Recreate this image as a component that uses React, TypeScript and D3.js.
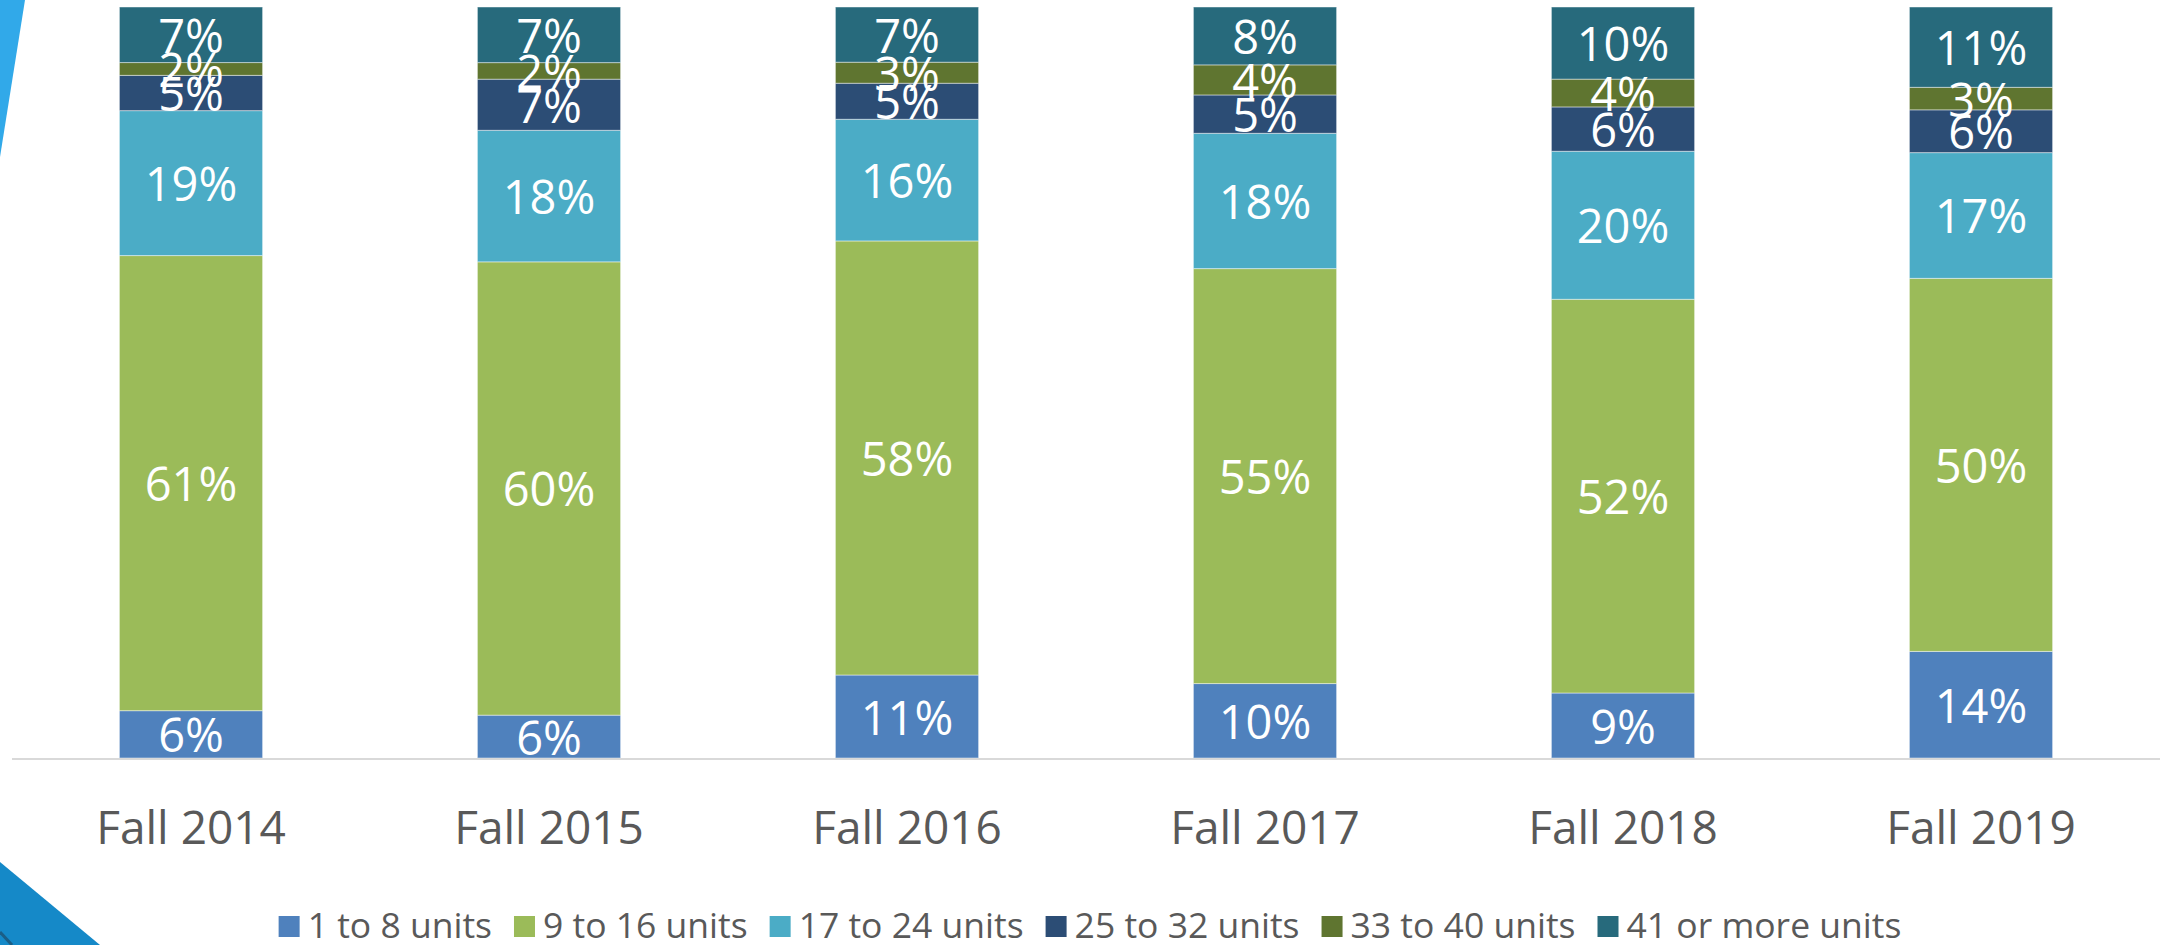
import React, { useEffect, useRef } from "react";
import * as d3 from "d3";

const categories = ["Fall 2014", "Fall 2015", "Fall 2016", "Fall 2017", "Fall 2018", "Fall 2019"];
const seriesNames = ["1 to 8 units", "9 to 16 units", "17 to 24 units", "25 to 32 units", "33 to 40 units", "41 or more units"];
const units1to8 = [6.3, 5.7, 11.05, 9.9, 8.65, 14.2];
const units9to16 = [60.6, 60.3, 57.8, 55.2, 52.4, 49.7];
const units17to24 = [19.3, 17.5, 16.2, 18.0, 19.7, 16.75];
const units25to32 = [4.7, 6.8, 4.8, 5.1, 5.9, 5.7];
const units33to40 = [1.7, 2.2, 2.8, 4.0, 3.7, 3.0];
const units41plus = [7.4, 7.4, 7.35, 7.7, 9.6, 10.7];
const seriesColors = ["#4F81BD", "#9BBB59", "#4BACC6", "#2C4D75", "#5F7530", "#276A7C"];

const W = 2169;
const H = 945;
const FONT = "'Open Sans', 'Noto Sans', sans-serif";

export default function App() {
  const ref = useRef<SVGSVGElement | null>(null);

  useEffect(() => {
    const svg = d3.select(ref.current);
    svg.selectAll("*").remove();

    const seriesValues = [units1to8, units9to16, units17to24, units25to32, units33to40, units41plus];
    const rows = categories.map((c, i) => {
      const r: any = { cat: c };
      seriesNames.forEach((s, k) => (r[s] = seriesValues[k][i]));
      return r;
    });

    const plotLeft = 12, plotRight = 2160, baseY = 758, topY = 7;
    const x = d3.scaleBand<string>().domain(categories).range([plotLeft, plotRight]).paddingInner(0.6).paddingOuter(0.3);
    const y = d3.scaleLinear().domain([0, 1]).range([baseY, topY]);
    const stack = d3.stack<any>().keys(seriesNames).offset(d3.stackOffsetExpand);
    const stacked = stack(rows);

    // decorations
    svg.append("polygon").attr("points", `0,0 25,0 0,157`).attr("fill", "#31A9E9");
    svg.append("polygon").attr("points", `0,862 100,945 0,945`).attr("fill", "#1589C8");
    svg.append("line").attr("x1", 0).attr("y1", 932).attr("x2", 12).attr("y2", 945).attr("stroke", "#1B5E86").attr("stroke-width", 3);

    const g = svg.append("g");
    stacked.forEach((layer, k) => {
      g.selectAll(null)
        .data(layer)
        .enter()
        .append("rect")
        .attr("x", (d: any) => x(d.data.cat)!)
        .attr("width", x.bandwidth())
        .attr("y", (d: any) => y(d[1]))
        .attr("height", (d: any) => y(d[0]) - y(d[1]))
        .attr("fill", seriesColors[k])
        .attr("stroke", "rgba(255,255,255,0.45)")
        .attr("stroke-width", 1);
    });

    // axis line
    svg.append("line").attr("x1", plotLeft).attr("x2", plotRight).attr("y1", baseY + 1).attr("y2", baseY + 1)
      .attr("stroke", "#D9D9D9").attr("stroke-width", 2);

    // labels
    stacked.forEach((layer, k) => {
      g.selectAll(null)
        .data(layer)
        .enter()
        .append("text")
        .attr("x", (d: any) => x(d.data.cat)! + x.bandwidth() / 2)
        .attr("y", (d: any) => (y(d[0]) + y(d[1])) / 2)
        .attr("text-anchor", "middle")
        .attr("dominant-baseline", "central")
        .attr("fill", "#FFFFFF")
        .attr("font-family", FONT)
        .attr("font-size", 47)
        .text((d: any) => `${Math.round(d.data[seriesNames[k]])}%`);
    });

    // category labels
    svg.selectAll(null)
      .data(categories)
      .enter()
      .append("text")
      .attr("x", (c) => x(c)! + x.bandwidth() / 2)
      .attr("y", 844)
      .attr("text-anchor", "middle")
      .attr("fill", "#595959")
      .attr("font-family", FONT)
      .attr("font-size", 46)
      .text((c) => c);

    // legend
    const lg = svg.append("g");
    const marker = 21, gapMT = 8, gapItem = 22;
    let cursor = 0;
    seriesNames.forEach((s, k) => {
      const it = lg.append("g");
      it.append("rect").attr("x", 0).attr("y", 916).attr("width", marker).attr("height", marker).attr("fill", seriesColors[k]);
      const t = it.append("text").attr("x", marker + gapMT).attr("y", 938).attr("fill", "#595959")
        .attr("font-family", FONT).attr("font-size", 35.5).text(s);
      const tw = (t.node() as SVGTextElement).getComputedTextLength();
      it.attr("transform", `translate(${cursor},0)`);
      cursor += marker + gapMT + tw + gapItem;
    });
    const total = cursor - gapItem;
    const center = (plotLeft + plotRight) / 2 + 4;
    lg.attr("transform", `translate(${center - total / 2},0)`);
  }, []);

  return (
    <svg
      ref={ref}
      width={W}
      height={H}
      style={{ position: "absolute", left: 0, top: 0, background: "#FFFFFF" }}
    />
  );
}
